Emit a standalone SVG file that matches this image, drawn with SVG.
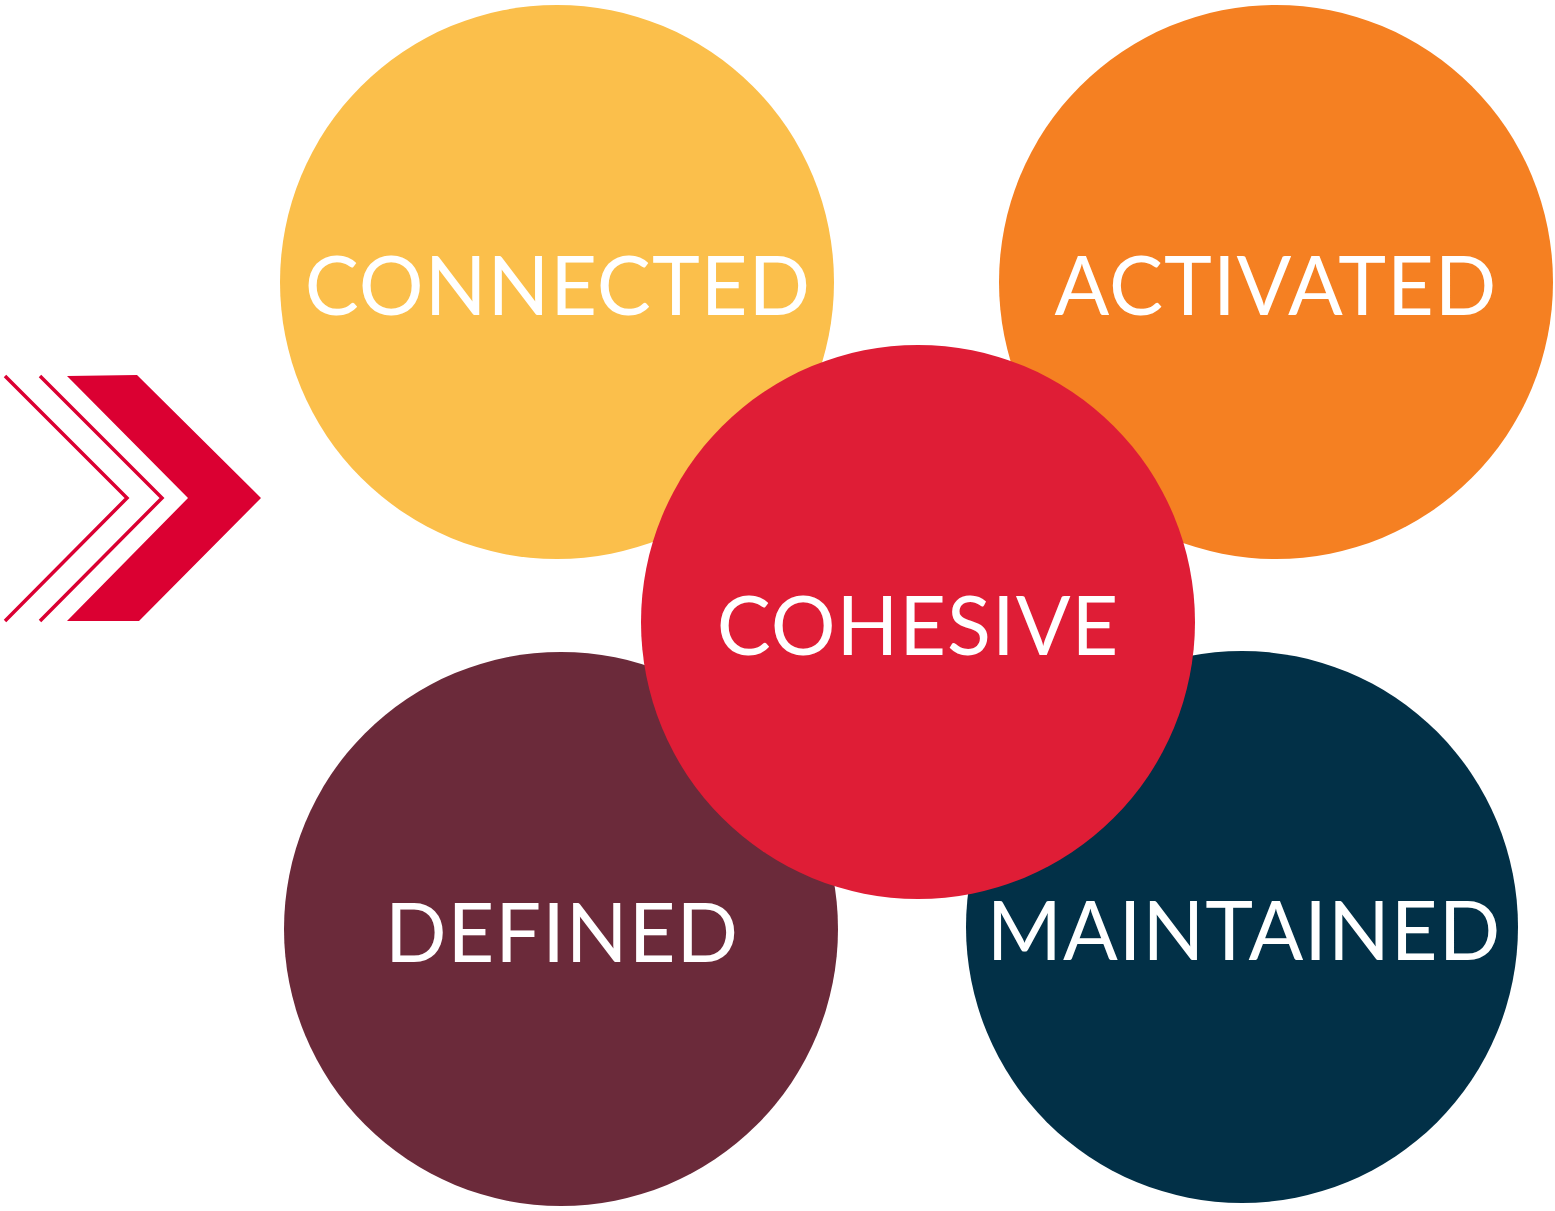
<svg xmlns="http://www.w3.org/2000/svg" width="1555" height="1211" viewBox="0 0 1555 1211">
<style>
.lbl{font-family:Lato,"Liberation Sans",sans-serif;font-size:81px;fill:#fff;text-anchor:middle;letter-spacing:1px;}
.ln{fill:none;stroke:#DB0032;stroke-width:3.5;}
</style>
<rect width="1555" height="1211" fill="#fff"/>
<g id="chevron">
<polyline class="ln" points="5,376 127,498 5,621"/>
<polyline class="ln" points="40,376 162,498 40,621"/>
<polygon fill="#DB0032" points="67,376 137,375 261,498 139,621 67,621 188,498"/>
</g>
<g id="connected">
<circle cx="557" cy="282" r="277" fill="#FBBF4B"/>
<text class="lbl" x="558" y="315">CONNECTED</text>
</g>
<g id="activated">
<circle cx="1276" cy="282" r="277" fill="#F58022"/>
<text class="lbl" x="1276" y="315">ACTIVATED</text>
</g>
<g id="defined">
<circle cx="561" cy="929" r="277" fill="#6B2A3A"/>
<text class="lbl" x="562" y="962">DEFINED</text>
</g>
<g id="maintained">
<circle cx="1242" cy="927" r="276" fill="#023047"/>
<text class="lbl" x="1244" y="960">MAINTAINED</text>
</g>
<g id="cohesive">
<circle cx="918" cy="622" r="277" fill="#DF1D36"/>
<text class="lbl" x="918" y="655">COHESIVE</text>
</g>
<g id="connectors"/>
</svg>
